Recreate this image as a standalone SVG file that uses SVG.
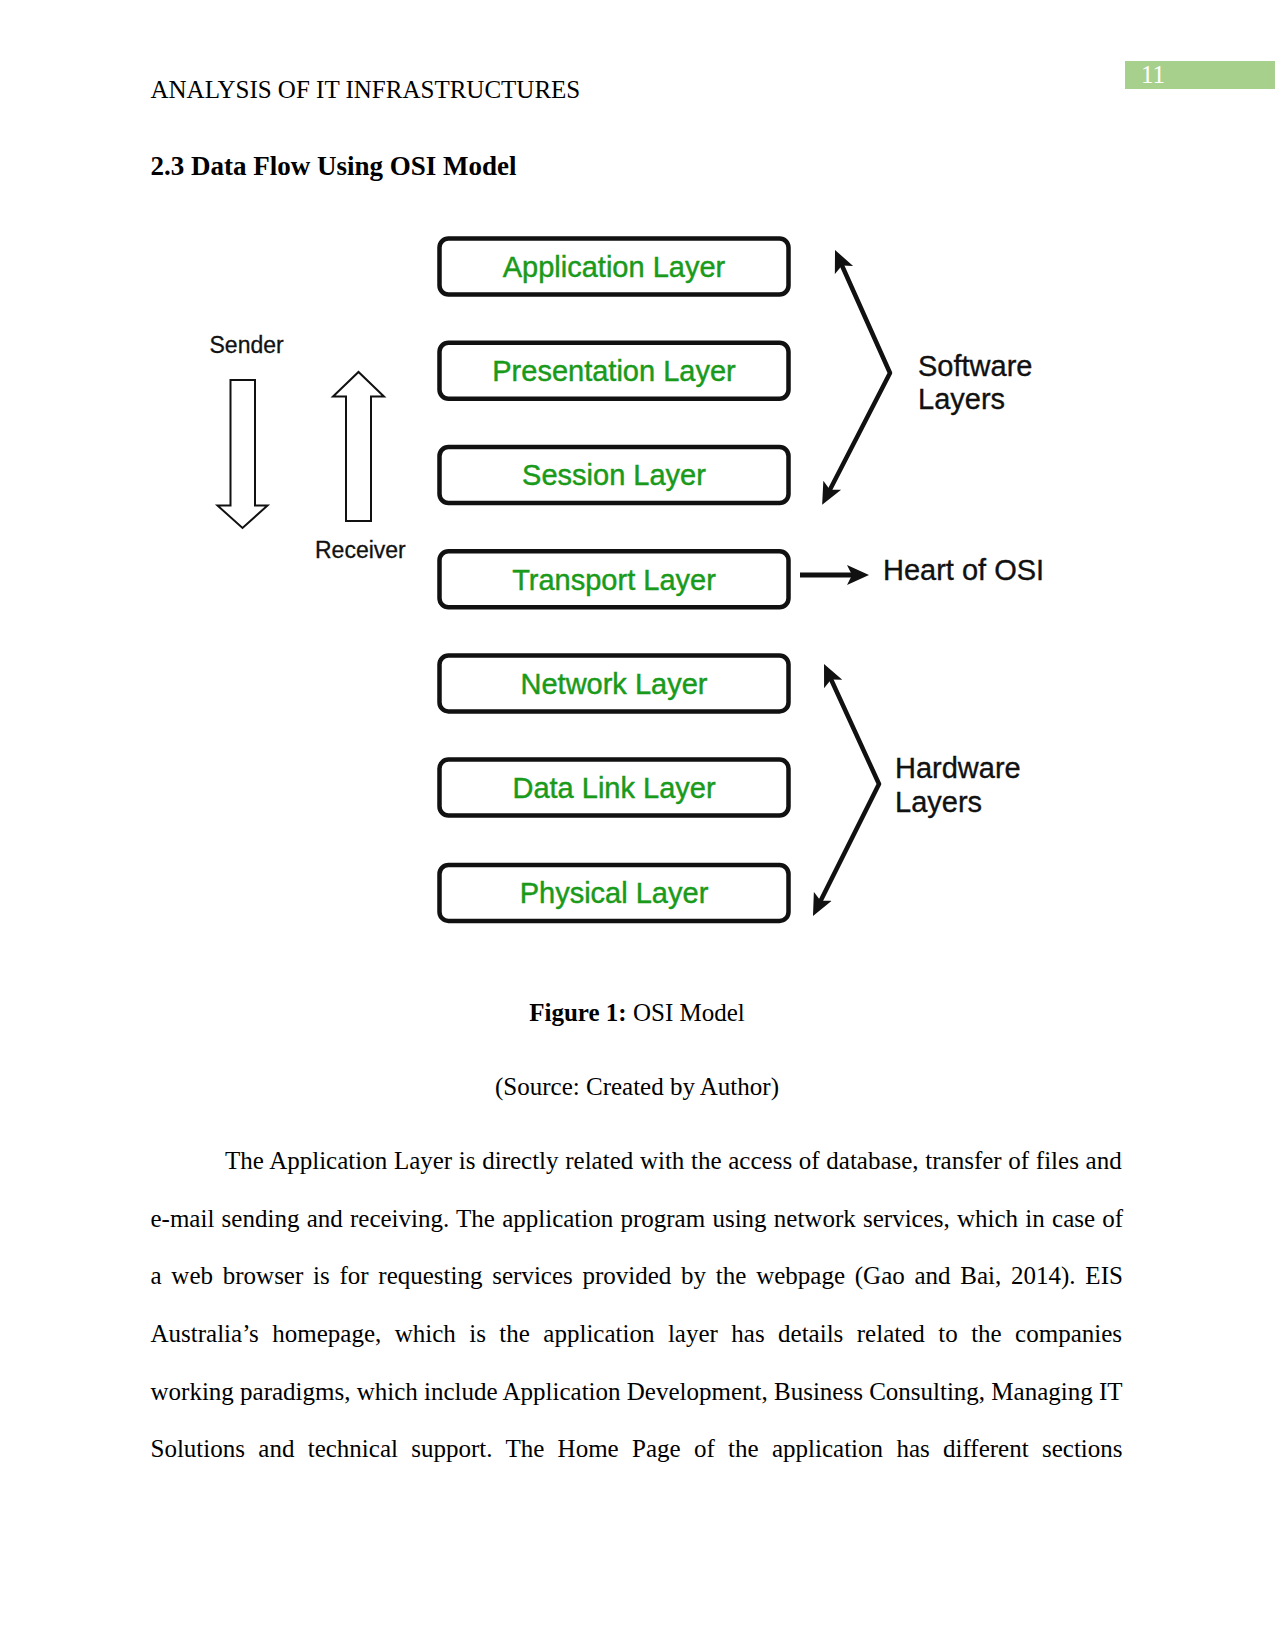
<svg xmlns="http://www.w3.org/2000/svg" width="1275" height="1651" viewBox="0 0 1275 1651">
<style>
.serif{font-family:"Liberation Serif","Times New Roman",serif;font-size:25px;fill:#000}
.b{font-weight:bold}
.box{fill:#fff;stroke:#111;stroke-width:4.5}
.lbl{font-family:"Liberation Sans",Arial,sans-serif;font-size:29px;fill:#1a9a1a;stroke:#1a9a1a;stroke-width:0.45;text-anchor:middle}
.side{font-family:"Liberation Sans",Arial,sans-serif;font-size:29px;fill:#111;stroke:#111;stroke-width:0.35}
.small{font-family:"Liberation Sans",Arial,sans-serif;font-size:23px;fill:#111;stroke:#111;stroke-width:0.3}
.brace{fill:none;stroke:#111;stroke-width:4.5;stroke-linejoin:round}
.blk{fill:#fff;stroke:#111;stroke-width:2}
</style>
<defs>
<marker id="ah" markerUnits="userSpaceOnUse" viewBox="0 -11 23 22" refX="11" refY="0" markerWidth="23" markerHeight="22" orient="auto-start-reverse">
<path d="M0,-10 L22,0 L0,10 L5,0 Z" fill="#111"/>
</marker>
</defs>
<rect width="1275" height="1651" fill="#fff"/>
<rect x="1125" y="61" width="150" height="28" fill="#a8d08d"/>
<text x="1141" y="83" class="serif" style="fill:#fff">11</text>
<text x="150.5" y="98" class="serif">ANALYSIS OF IT INFRASTRUCTURES</text>
<text x="150.5" y="175" class="serif b" style="font-size:27px">2.3 Data Flow Using OSI Model</text>

<g id="node-application"><rect class="box" x="439.5" y="238.5" width="349" height="56" rx="9"/><text class="lbl" x="614" y="276.8">Application Layer</text></g>
<g id="node-presentation"><rect class="box" x="439.5" y="342.7" width="349" height="56" rx="9"/><text class="lbl" x="614" y="381">Presentation Layer</text></g>
<g id="node-session"><rect class="box" x="439.5" y="447" width="349" height="56" rx="9"/><text class="lbl" x="614" y="485.3">Session Layer</text></g>
<g id="node-transport"><rect class="box" x="439.5" y="551.2" width="349" height="56" rx="9"/><text class="lbl" x="614" y="589.5">Transport Layer</text></g>
<g id="node-network"><rect class="box" x="439.5" y="655.4" width="349" height="56" rx="9"/><text class="lbl" x="614" y="693.7">Network Layer</text></g>
<g id="node-datalink"><rect class="box" x="439.5" y="759.6" width="349" height="56" rx="9"/><text class="lbl" x="614" y="797.9">Data Link Layer</text></g>
<g id="node-physical"><rect class="box" x="439.5" y="864.9" width="349" height="56" rx="9"/><text class="lbl" x="614" y="903.2">Physical Layer</text></g>

<g id="sender"><text class="small" x="209.5" y="352.7">Sender</text>
<polygon class="blk" points="230.5,380 255,380 255,505.5 267.5,505.5 242.5,528 217.5,505.5 230.5,505.5"/></g>
<g id="receiver"><text class="small" x="315" y="558">Receiver</text>
<polygon class="blk" points="346,521 371,521 371,396.5 384,396.5 358.5,372 333,396.5 346,396.5"/></g>

<g id="software-label"><text class="side" x="918" y="375.5">Software</text><text class="side" x="918" y="409">Layers</text></g>
<g id="heart-label"><text class="side" x="883" y="580">Heart of OSI</text></g>
<g id="hardware-label"><text class="side" x="895" y="777.5">Hardware</text><text class="side" x="895" y="811.5">Layers</text></g>

<g id="connectors">
<path class="brace" d="M839.5,260 L890,373 L827.2,495" marker-start="url(#ah)" marker-end="url(#ah)"/>
<path class="brace" d="M828.6,674 L879,784 L817.9,906.2" marker-start="url(#ah)" marker-end="url(#ah)"/>
<path class="brace" d="M800,575 L858,575" style="stroke-width:5" marker-end="url(#ah)"/>
</g>

<text x="637" y="1021" class="serif" text-anchor="middle"><tspan class="b">Figure 1:</tspan> OSI Model</text>
<text x="637" y="1095" class="serif" text-anchor="middle">(Source: Created by Author)</text>

<text x="225" y="1168.6" class="serif" word-spacing="0.43">The Application Layer is directly related with the access of database, transfer of files and</text>
<text x="150.5" y="1226.5" class="serif" word-spacing="1">e-mail sending and receiving. The application program using network services, which in case of</text>
<text x="150.5" y="1284.4" class="serif" word-spacing="3.5">a web browser is for requesting services provided by the webpage (Gao and Bai, 2014). EIS</text>
<text x="150.5" y="1342.3" class="serif" word-spacing="7.2">Australia’s homepage, which is the application layer has details related to the companies</text>
<text x="150.5" y="1400.2" class="serif" word-spacing="0">working paradigms, which include Application Development, Business Consulting, Managing IT</text>
<text x="150.5" y="1457" class="serif" word-spacing="7.08">Solutions and technical support. The Home Page of the application has different sections</text>
</svg>
